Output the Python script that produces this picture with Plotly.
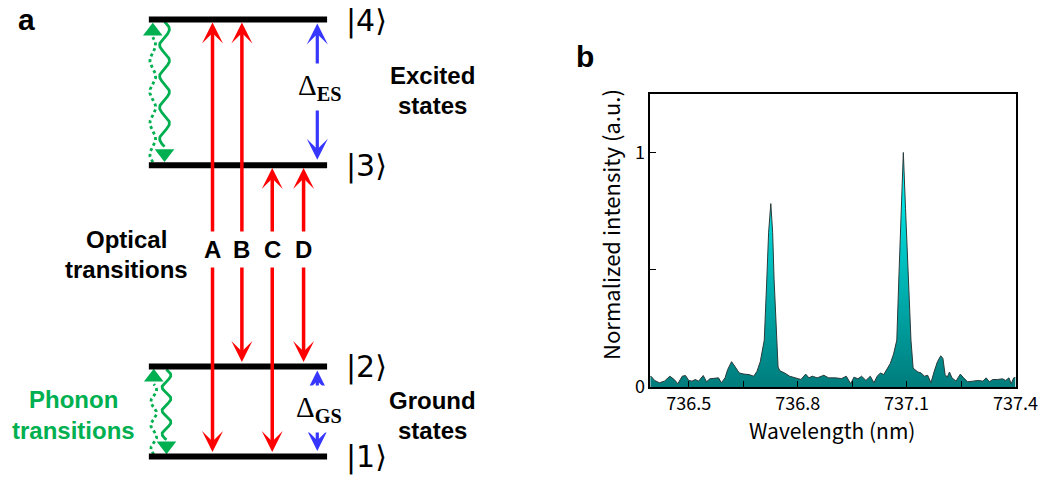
import numpy as np
import plotly.graph_objects as go

# ---------------- Panel b data (spectrum) ----------------
wavelength_nm = [
    736.394, 736.396, 736.406, 736.419, 736.433, 736.448, 736.460, 736.470, 736.482, 736.491,
    736.500, 736.509, 736.518, 736.527, 736.540, 736.549, 736.558, 736.572, 736.582, 736.590,
    736.600, 736.607, 736.618, 736.627, 736.639, 736.652, 736.666, 736.679, 736.688, 736.697,
    736.704, 736.708, 736.715, 736.720, 736.726, 736.731, 736.735, 736.742, 736.746, 736.751,
    736.764, 736.778, 736.791, 736.800, 736.809, 736.822, 736.831, 736.840, 736.854, 736.872,
    736.885, 736.903, 736.921, 736.934, 736.946, 736.955, 736.966, 736.976, 736.988, 737.000,
    737.010, 737.019, 737.028, 737.037, 737.046, 737.055, 737.064, 737.073, 737.079, 737.085,
    737.091, 737.097, 737.104, 737.112, 737.118, 737.131, 737.140, 737.149, 737.158, 737.167,
    737.176, 737.185, 737.194, 737.200, 737.206, 737.212, 737.218, 737.225, 737.236, 737.248,
    737.257, 737.268, 737.283, 737.297, 737.310, 737.319, 737.328, 737.337, 737.351, 737.364,
    737.373, 737.382, 737.388, 737.395, 737.400,
]
intensity = [
    0.045, 0.046, 0.028, 0.018, 0.025, 0.046, 0.032, 0.014, 0.046, 0.049,
    0.028, 0.025, 0.032, 0.025, 0.049, 0.022, 0.035, 0.036, 0.039, 0.018,
    0.039, 0.074, 0.108, 0.088, 0.060, 0.055, 0.053, 0.046, 0.067, 0.108,
    0.170, 0.200, 0.460, 0.660, 0.782, 0.660, 0.460, 0.200, 0.085, 0.069,
    0.060, 0.046, 0.039, 0.036, 0.032, 0.055, 0.039, 0.046, 0.039, 0.050,
    0.039, 0.039, 0.036, 0.046, 0.014, 0.042, 0.035, 0.046, 0.028, 0.046,
    0.018, 0.046, 0.060, 0.053, 0.075, 0.100, 0.140, 0.200, 0.480, 0.760,
    1.000, 0.760, 0.480, 0.200, 0.080, 0.064, 0.060, 0.046, 0.050, 0.018,
    0.067, 0.108, 0.133, 0.122, 0.053, 0.042, 0.064, 0.039, 0.025, 0.055,
    0.039, 0.022, 0.025, 0.028, 0.025, 0.039, 0.022, 0.032, 0.032, 0.035,
    0.028, 0.039, 0.014, 0.039, 0.040,
]
x_tickvals = [736.5, 736.8, 737.1, 737.4]
x_ticktext = ["736.5", "736.8", "737.1", "737.4"]
x_minor_tickvals = [736.65, 736.95, 737.25]
y_tickvals = [0, 1]
y_ticktext = ["0", "1"]
y_minor_tickvals = [0.5]

# ---------------- Panel a data (level diagram) ----------------
level_names = ["|1⟩", "|2⟩", "|3⟩", "|4⟩"]
transition_names = ["A", "B", "C", "D"]
transition_upper = [4, 4, 3, 3]
transition_lower = [1, 2, 1, 2]
splitting_names = ["ES", "GS"]

# ---------------- layout geometry (pixels) ----------------
W, H = 1063, 484
level_y = {1: 467, 2: 375, 3: 169, 4: 20}
lev_x0, lev_x1 = 152, 334
trans_x = [217, 247, 278, 310]
trans_label_y = 255
RED = "#ff0000"
BLUE = "#3636ff"
GREEN = "#00b050"
BOLD = "Liberation Sans, Arial, sans-serif"

fig = go.Figure()

# spectrum
fig.add_trace(go.Scatter(
    x=wavelength_nm, y=intensity, mode="lines",
    line=dict(color="#2a3a3a", width=1),
    fill="tozeroy",
    fillgradient=dict(type="vertical", start=0, stop=1,
                      colorscale=[[0, "#007878"], [0.5, "#00b8b8"], [1, "#00ffff"]]),
    xaxis="x", yaxis="y", showlegend=False, hoverinfo="skip",
))

# green phonon wavy lines (decoration)
def wave(cx, ya, yb, amp, period, n=240):
    yy = np.linspace(ya, yb, n)
    xx = cx + amp * np.sin(2 * np.pi * (yy - ya) / period)
    return xx, yy

for (cx, ya, yb, amp, per, dash) in [
    (168, 22, 150, 5.0, 32, "solid"),
    (156, 166, 38, 3.0, 32, "dot"),
    (170, 378, 450, 4.5, 24, "solid"),
    (157, 465, 393, 3.0, 24, "dot"),
]:
    xx, yy = wave(cx, ya, yb, amp, per)
    fig.add_trace(go.Scatter(x=xx, y=yy, mode="lines",
                             line=dict(color=GREEN, width=2.8, dash=dash),
                             xaxis="x2", yaxis="y2", showlegend=False, hoverinfo="skip"))

# green arrow heads (markers)
fig.add_trace(go.Scatter(x=[168, 170], y=[157, 456], mode="markers",
                         marker=dict(symbol="triangle-down", size=17, color=GREEN),
                         xaxis="x2", yaxis="y2", showlegend=False, hoverinfo="skip"))
fig.add_trace(go.Scatter(x=[156, 157], y=[32, 386], mode="markers",
                         marker=dict(symbol="triangle-up", size=17, color=GREEN),
                         xaxis="x2", yaxis="y2", showlegend=False, hoverinfo="skip"))

shapes = []
for lv in (1, 2, 3, 4):
    shapes.append(dict(type="line", xref="x2", yref="y2", x0=lev_x0, x1=lev_x1,
                       y0=level_y[lv], y1=level_y[lv], line=dict(color="black", width=6)))

ann = []
def arrow(x, y_tip, y_tail, color, width=3.5, size=1.0, both=True, head=3):
    ann.append(dict(xref="x2", yref="y2", axref="x2", ayref="y2", x=x, y=y_tip, ax=x, ay=y_tail,
                    text="", showarrow=True, arrowcolor=color, arrowwidth=width,
                    arrowhead=head, arrowsize=size, startarrowhead=head, startarrowsize=size,
                    arrowside="end+start" if both else "end", standoff=0, startstandoff=0))

# optical transitions
for name, up, lo, x in zip(transition_names, transition_upper, transition_lower, trans_x):
    arrow(x, level_y[up] + 3, level_y[lo] - 3, RED)
for name, x in zip(transition_names, trans_x):
    ann.append(dict(xref="x2", yref="y2", x=x, y=trans_label_y, text=f"<b>{name}</b>",
                    showarrow=False, bgcolor="white", borderpad=4,
                    font=dict(family=BOLD, size=24, color="black")))

# splittings
arrow(324, level_y[4] + 4, level_y[3] - 4, BLUE, width=3.2, size=1.1)
arrow(324, level_y[2] + 4, level_y[1] - 4, BLUE, width=3.2, size=1.1)
for name, y in zip(splitting_names, [89, 418]):
    ann.append(dict(xref="x2", yref="y2", x=326, y=y, text=f"Δ<sub><b>{name}</b></sub>",
                    showarrow=False, bgcolor="white", borderpad=5,
                    font=dict(family="Liberation Serif, serif", size=29, color="black")))

# level labels
for lv, name in zip((1, 2, 3, 4), level_names):
    ann.append(dict(xref="x2", yref="y2", x=351, y=level_y[lv] + 1, xanchor="left", text=name,
                    showarrow=False, font=dict(family="DejaVu Sans", size=30, color="black")))

# texts
def txt(x, y, s, size=24, color="black", family=BOLD):
    ann.append(dict(xref="x2", yref="y2", x=x, y=y, text=s, showarrow=False,
                    font=dict(family=family, size=size, color=color)))

txt(442, 77, "<b>Excited</b>")
txt(442, 108, "<b>states</b>")
txt(442, 410, "<b>Ground</b>")
txt(442, 441, "<b>states</b>")
txt(129, 245, "<b>Optical</b>")
txt(129, 276, "<b>transitions</b>")
txt(75, 409, "<b>Phonon</b>", color=GREEN)
txt(75, 440, "<b>transitions</b>", color=GREEN)
txt(27, 20, "<b>a</b>", size=30)
txt(597, 58, "<b>b</b>", size=30)

# panel b axis titles
PB = "Noto Sans CJK JP, sans-serif"
txt(850, 440, "Wavelength (nm)", size=21, family=PB)
ann.append(dict(xref="x2", yref="y2", x=623, y=230, text="Normalized intensity (a.u.)",
                textangle=-90, showarrow=False, font=dict(family=PB, size=22, color="black")))

fig.update_layout(
    width=W, height=H, margin=dict(l=0, r=0, t=0, b=0),
    paper_bgcolor="white", plot_bgcolor="rgba(0,0,0,0)",
    shapes=shapes, annotations=ann, showlegend=False,
    xaxis=dict(domain=[664 / W, 1037 / W], range=[736.394, 737.4], tickmode="array",
               tickvals=x_tickvals, ticktext=x_ticktext, ticks="inside", ticklen=6,
               tickwidth=1.3, tickcolor="black",
               minor=dict(tickmode="array", tickvals=x_minor_tickvals, ticks="inside",
                          ticklen=6, tickwidth=1.3, tickcolor="black", showgrid=False),
               showline=True, linecolor="black", linewidth=1.5, mirror=True, showgrid=False,
               zeroline=False, anchor="y", tickfont=dict(family=PB, size=18, color="black")),
    yaxis=dict(domain=[(H - 396) / H, (H - 96) / H], range=[0, 1.25], tickmode="array",
               tickvals=y_tickvals, ticktext=y_ticktext, ticks="inside", ticklen=6,
               tickwidth=1.3, tickcolor="black",
               minor=dict(tickmode="array", tickvals=y_minor_tickvals, ticks="inside",
                          ticklen=6, tickwidth=1.3, tickcolor="black", showgrid=False),
               showline=True, linecolor="black", linewidth=1.5, mirror=True, showgrid=False,
               zeroline=False, anchor="x", tickfont=dict(family=PB, size=18, color="black")),
    xaxis2=dict(domain=[0, 1], range=[0, W], visible=False, anchor="y2"),
    yaxis2=dict(domain=[0, 1], range=[H, 0], visible=False, anchor="x2"),
)

fig.write_html("out.html")
